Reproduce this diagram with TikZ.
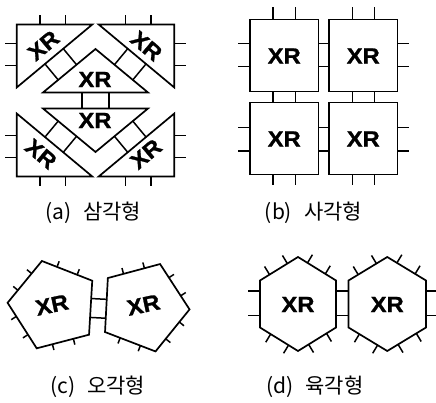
\documentclass[tikz,border=0pt]{standalone}
\usepackage{fontspec}
\newfontfamily\xrfont[FakeStretch=1.08,FakeBold=1.2]{Liberation Sans}
\newfontfamily\krfont{Noto Sans CJK KR}
\usetikzlibrary{calc}
\begin{document}
\begin{tikzpicture}[x=1pt,y=-1pt,
  blk/.style={draw=black, line width=1.7pt, line join=miter},
  port/.style={draw=black, line width=1.5pt},
  xr/.style={font=\xrfont\bfseries\fontsize{22}{22}\selectfont, inner sep=0pt},
  captxt/.style={font=\krfont\fontsize{21}{21}\selectfont, anchor=base west, inner sep=0pt}]
\useasboundingbox (0,0) rectangle (436,403);

% ---------------- (a) triangles
\coordinate (tlA) at (16.7,24.5); \coordinate (tlB) at (92.3,24.5); \coordinate (tlC) at (16.7,87.5);
\coordinate (trA) at (174.3,24.5); \coordinate (trB) at (98.7,24.5); \coordinate (trC) at (174.3,87.5);
\coordinate (blA) at (16.7,176.5); \coordinate (blB) at (92.3,176.5); \coordinate (blC) at (16.7,113.5);
\coordinate (brA) at (174.3,176.5); \coordinate (brB) at (98.7,176.5); \coordinate (brC) at (174.3,113.5);
\coordinate (upT) at (95.5,49); \coordinate (upL) at (43,92.5); \coordinate (upR) at (148,92.5);
\coordinate (dnB) at (95.5,152); \coordinate (dnL) at (43,108.5); \coordinate (dnR) at (148,108.5);
\draw[blk] (tlA)--(tlB)--(tlC)--cycle;
\draw[blk] (trA)--(trB)--(trC)--cycle;
\draw[blk] (blA)--(blB)--(blC)--cycle;
\draw[blk] (brA)--(brB)--(brC)--cycle;
\draw[blk] (upT)--(upL)--(upR)--cycle;
\draw[blk] (dnB)--(dnL)--(dnR)--cycle;
\foreach \t [count=\i] in {0.384,0.626} {
  \path ($(tlB)!\t!(tlC)$) coordinate (ptl\i);
  \path ($(trB)!\t!(trC)$) coordinate (ptr\i);
  \path ($(blB)!\t!(blC)$) coordinate (pbl\i);
  \path ($(brB)!\t!(brC)$) coordinate (pbr\i);
  \draw[port] (ptl\i) -- ($(upT)!(ptl\i)!(upL)$);
  \draw[port] (ptr\i) -- ($(upT)!(ptr\i)!(upR)$);
  \draw[port] (pbl\i) -- ($(dnB)!(pbl\i)!(dnL)$);
  \draw[port] (pbr\i) -- ($(dnB)!(pbr\i)!(dnR)$);
}
\draw[port] (82,92.5)--(82,108.5);
\draw[port] (109,92.5)--(109,108.5);
% ports
\foreach \x in {40,65.7} {\draw[port] (\x,24.5)--(\x,15); \draw[port] (\x,176.5)--(\x,186);}
\foreach \x in {151,125.3} {\draw[port] (\x,24.5)--(\x,15); \draw[port] (\x,176.5)--(\x,186);}
\foreach \y in {43.3,65.7,135.3,157.7} {\draw[port] (16.7,\y)--(5,\y); \draw[port] (174.3,\y)--(186,\y);}
\node[xr, rotate=40] (xtl) at (43.5,45.5) {XR};
\node[xr, rotate=-40] (xtr) at (146.5,46) {XR};
\node[xr, rotate=-40] (xbl) at (41,154) {XR};
\node[xr, rotate=40] (xbr) at (146,154) {XR};
\node[xr] (xup) at (95,79.5) {XR};
\node[xr] (xdn) at (95,120.5) {XR};
\node[captxt] (la) at (45,220) {(a)\hspace{12pt}삼각형};

% ---------------- (b) squares
\draw[blk] (250,19.5) rectangle (318.5,91.5);
\draw[blk] (329,19.5) rectangle (397.5,91.5);
\draw[blk] (250,102.5) rectangle (318.5,174.5);
\draw[blk] (329,102.5) rectangle (397.5,174.5);
\foreach \x in {273,295.5,352.3,374.5} {
  \draw[port] (\x,19.5)--(\x,7);
  \draw[port] (\x,91.5)--(\x,102.5);
  \draw[port] (\x,174.5)--(\x,185.5);}
\foreach \y in {43.3,66.7,127.7,151} {
  \draw[port] (250,\y)--(238,\y);
  \draw[port] (318.5,\y)--(329,\y);
  \draw[port] (397.5,\y)--(409,\y);}
\node[xr] (xs1) at (284.25,56) {XR};
\node[xr] (xs2) at (363.25,56) {XR};
\node[xr] (xs3) at (284.25,139) {XR};
\node[xr] (xs4) at (363.25,139) {XR};
\node[captxt] (lb) at (264.7,220) {(b)\hspace{12pt}사각형};

% ---------------- (c) pentagons
\begin{scope}[shift={(53.5,305.5)}]
  \draw[blk] (39.4:46)--(111.4:46)--(183.4:46)--(255.4:46)--(327.4:46)--cycle;
  \foreach \a in {39.4,111.4,183.4,255.4} {\foreach \t/\s in {0.3/0.7,0.7/0.3} {
    \draw[port] ($\s*(\a:46)+\t*(\a+72:46)$) -- ++(\a+36:6);}}
  \path ($0.67*(327.4:46)+0.33*(39.4:46)$) coordinate (pl1);
  \path ($0.32*(327.4:46)+0.68*(39.4:46)$) coordinate (pl2);
\end{scope}
\begin{scope}[shift={(143.6,307)}]
  \draw[blk] (3:46)--(75:46)--(147:46)--(219:46)--(291:46)--cycle;
  \foreach \a in {3,75,219,291} {\foreach \t/\s in {0.3/0.7,0.7/0.3} {
    \draw[port] ($\s*(\a:46)+\t*(\a+72:46)$) -- ++(\a+36:6);}}
  \coordinate (pr1) at (219:46);
  \coordinate (pr2) at (147:46);
\end{scope}
\draw[port] (pl1) -- ($(pr1)!(pl1)!(pr2)$);
\draw[port] (pl2) -- ($(pr1)!(pl2)!(pr2)$);
\node[xr, rotate=12] (xp1) at (52,305) {XR};
\node[xr, rotate=12] (xp2) at (143.5,305) {XR};
\node[captxt] (lc) at (50,393) {(c)\hspace{12pt}오각형};

% ---------------- (d) hexagons
\draw[blk] (260,280.5)--(298,257)--(336,280.5)--(336,327.5)--(298,351)--(260,327.5)--cycle;
\draw[blk] (348.5,280.5)--(387.25,257)--(426,280.5)--(426,327.5)--(387.25,351)--(348.5,327.5)--cycle;
\foreach \cx/\l/\r in {298/260/336, 387.25/348.5/426} {
  \foreach \t in {0.25,0.72} {
    \draw[port] ($(\l,280.5)!\t!(\cx,257)$) -- ++(-121:9.5);
    \draw[port] ($(\cx,257)!\t!(\r,280.5)$) -- ++(-59:9.5);
    \draw[port] ($(\r,327.5)!\t!(\cx,351)$) -- ++(59:9.5);
    \draw[port] ($(\cx,351)!\t!(\l,327.5)$) -- ++(121:9.5);
  }}
\foreach \y in {291,315.5} {
  \draw[port] (260,\y)--(248,\y);
  \draw[port] (336,\y)--(348.5,\y);
  \draw[port] (426,\y)--(438,\y);}
\node[xr] (xh1) at (298,304.5) {XR};
\node[xr] (xh2) at (387.25,304.5) {XR};
\node[captxt] (ld) at (266,393) {(d)\hspace{12pt}육각형};
\end{tikzpicture}
\end{document}
